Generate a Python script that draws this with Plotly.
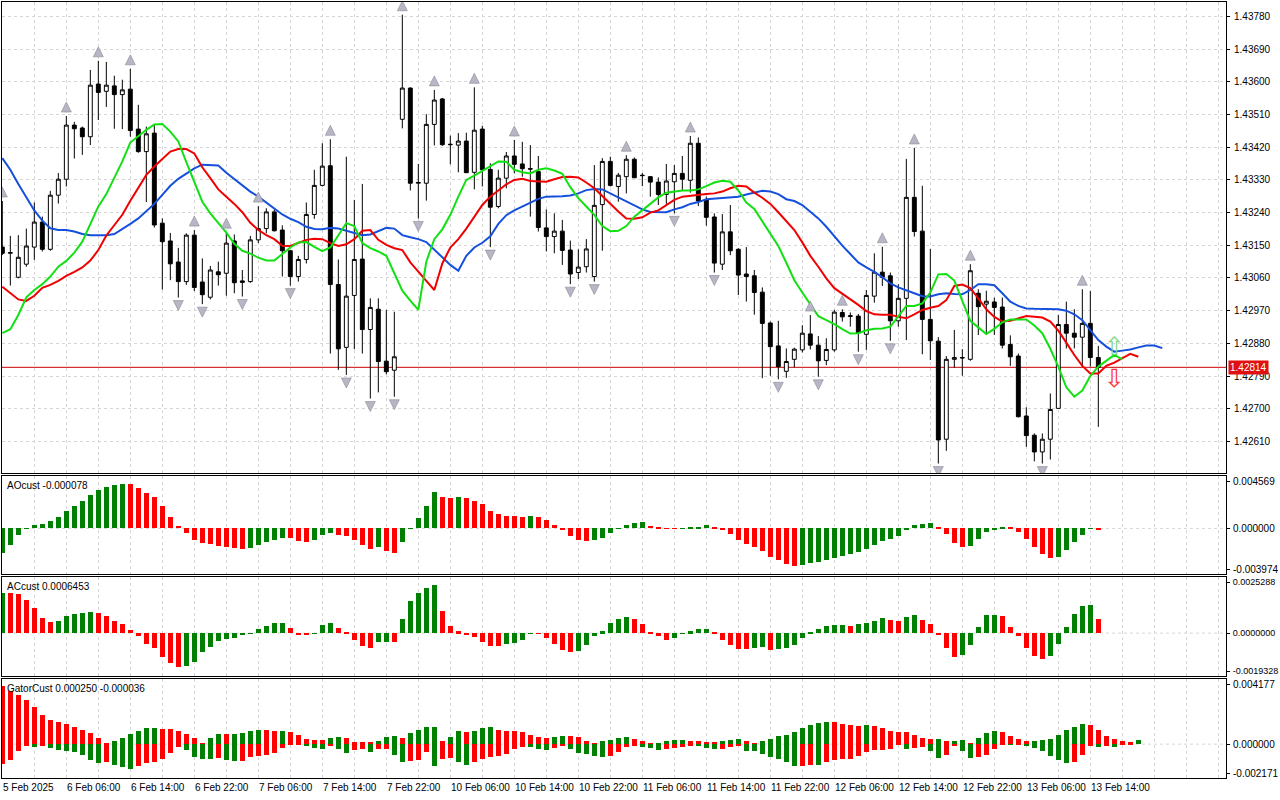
import plotly.graph_objects as go

# H1 candles, bar 0 = 5 Feb 22:00 (weekend gap after bar 49)
opens = [1.43145, 1.43128, 1.43062, 1.43098, 1.43145, 1.43214, 1.43139, 1.43288, 1.43332, 1.43481,
         1.43473, 1.43449, 1.43594, 1.43574, 1.43589, 1.43565, 1.43580, 1.43470, 1.43408, 1.43459,
         1.43211, 1.43162, 1.43104, 1.43050, 1.43178, 1.43049, 1.43007, 1.43077, 1.43073, 1.43162,
         1.43052, 1.43050, 1.43165, 1.43196, 1.43242, 1.43192, 1.43135, 1.43064, 1.43111, 1.43235,
         1.43315, 1.43369, 1.43042, 1.42869, 1.43012, 1.43112, 1.42918, 1.42974, 1.42831, 1.42806,
         1.43497, 1.43583, 1.43321, 1.43321, 1.43483, 1.43553, 1.43427, 1.43426, 1.43437, 1.43351,
         1.43470, 1.43359, 1.43257, 1.43335, 1.43396, 1.43374, 1.43361, 1.43353, 1.43198, 1.43174,
         1.43189, 1.43137, 1.43075, 1.43091, 1.43064, 1.43262, 1.43381, 1.43312, 1.43339, 1.43387,
         1.43343, 1.43339, 1.43324, 1.43290, 1.43325, 1.43348, 1.43329, 1.43431, 1.43275, 1.43228,
         1.43098, 1.43187, 1.43139, 1.43071, 1.43066, 1.43021, 1.42936, 1.42873, 1.42803, 1.42836,
         1.42862, 1.42906, 1.42875, 1.42833, 1.42862, 1.42965, 1.42954, 1.42955, 1.42905, 1.43010,
         1.43076, 1.43066, 1.42942, 1.43004, 1.43282, 1.43189, 1.42946, 1.42886, 1.42616, 1.42836,
         1.42841, 1.42836, 1.43018, 1.42988, 1.42994, 1.42980, 1.42877, 1.42845, 1.42680, 1.42627,
         1.42581, 1.42616, 1.42701, 1.42932, 1.42908, 1.42897, 1.42935, 1.42841]
highs = [1.43272, 1.43176, 1.43178, 1.43196, 1.43268, 1.43229, 1.43300, 1.43349, 1.43506, 1.43490,
         1.43477, 1.43633, 1.43658, 1.43655, 1.43617, 1.43606, 1.43636, 1.43537, 1.43477, 1.43481,
         1.43224, 1.43184, 1.43143, 1.43183, 1.43192, 1.43114, 1.43093, 1.43105, 1.43186, 1.43180,
         1.43082, 1.43176, 1.43258, 1.43252, 1.43248, 1.43205, 1.43137, 1.43121, 1.43268, 1.43358,
         1.43431, 1.43442, 1.43111, 1.43394, 1.43275, 1.43319, 1.43004, 1.43004, 1.42972, 1.42967,
         1.43785, 1.43585, 1.43374, 1.43511, 1.43578, 1.43556, 1.43452, 1.43459, 1.43460, 1.43585,
         1.43479, 1.43376, 1.43358, 1.43407, 1.43440, 1.43435, 1.43426, 1.43396, 1.43249, 1.43238,
         1.43220, 1.43163, 1.43139, 1.43167, 1.43371, 1.43390, 1.43394, 1.43349, 1.43398, 1.43392,
         1.43349, 1.43341, 1.43337, 1.43374, 1.43371, 1.43396, 1.43451, 1.43447, 1.43284, 1.43238,
         1.43236, 1.43261, 1.43142, 1.43145, 1.43082, 1.43034, 1.42940, 1.42942, 1.42866, 1.42868,
         1.42930, 1.42958, 1.42900, 1.42894, 1.42972, 1.42974, 1.42965, 1.42961, 1.43027, 1.43128,
         1.43146, 1.43075, 1.43043, 1.43388, 1.43418, 1.43314, 1.43140, 1.42897, 1.42845, 1.42917,
         1.42864, 1.43098, 1.43029, 1.43025, 1.43006, 1.43006, 1.42902, 1.42852, 1.42704, 1.42632,
         1.42632, 1.42742, 1.42958, 1.42995, 1.42974, 1.43029, 1.43024, 1.42873]
lows = [1.43123, 1.43039, 1.43059, 1.43091, 1.43110, 1.43133, 1.43135, 1.43265, 1.43312, 1.43389,
        1.43399, 1.43426, 1.43495, 1.43531, 1.43471, 1.43470, 1.43449, 1.43405, 1.43269, 1.43199,
        1.43028, 1.43054, 1.43006, 1.43041, 1.43024, 1.42988, 1.43001, 1.43039, 1.43011, 1.43018,
        1.43009, 1.43047, 1.43156, 1.43183, 1.43188, 1.43064, 1.43039, 1.43050, 1.43100, 1.43223,
        1.43312, 1.42852, 1.42807, 1.42793, 1.42864, 1.42852, 1.42728, 1.42745, 1.42795, 1.42733,
        1.43472, 1.43301, 1.43224, 1.43273, 1.43425, 1.43424, 1.43373, 1.43351, 1.43349, 1.43304,
        1.43312, 1.43145, 1.43252, 1.43307, 1.43348, 1.43339, 1.43229, 1.43188, 1.43133, 1.43128,
        1.43096, 1.43043, 1.43057, 1.43075, 1.43050, 1.43135, 1.43312, 1.43270, 1.43293, 1.43336,
        1.43313, 1.43284, 1.43261, 1.43264, 1.43238, 1.43302, 1.43295, 1.43258, 1.43204, 1.43075,
        1.43082, 1.43123, 1.43013, 1.42995, 1.42959, 1.42784, 1.42791, 1.42781, 1.42785, 1.42814,
        1.42855, 1.42863, 1.42788, 1.42820, 1.42857, 1.42940, 1.42926, 1.42857, 1.42862, 1.42992,
        1.43038, 1.42887, 1.42926, 1.42889, 1.43174, 1.42850, 1.42834, 1.42549, 1.42584, 1.42813,
        1.42791, 1.42832, 1.42903, 1.42903, 1.42903, 1.42866, 1.42818, 1.42676, 1.42595, 1.42555,
        1.42549, 1.42560, 1.42700, 1.42866, 1.42866, 1.42816, 1.42816, 1.42650]
closes = [1.43128, 1.43130, 1.43117, 1.43148, 1.43214, 1.43139, 1.43288, 1.43332, 1.43481, 1.43471,
          1.43449, 1.43591, 1.43571, 1.43591, 1.43565, 1.43578, 1.43466, 1.43408, 1.43457, 1.43206,
          1.43160, 1.43099, 1.43050, 1.43178, 1.43034, 1.43014, 1.43082, 1.43069, 1.43156, 1.43047,
          1.43048, 1.43165, 1.43196, 1.43242, 1.43190, 1.43135, 1.43064, 1.43111, 1.43235, 1.43315,
          1.43368, 1.43042, 1.42865, 1.43010, 1.43111, 1.42918, 1.42979, 1.42830, 1.42802, 1.42843,
          1.43583, 1.43321, 1.43323, 1.43483, 1.43550, 1.43427, 1.43428, 1.43437, 1.43350, 1.43467,
          1.43358, 1.43255, 1.43335, 1.43396, 1.43373, 1.43361, 1.43360, 1.43199, 1.43174, 1.43189,
          1.43136, 1.43071, 1.43090, 1.43140, 1.43260, 1.43381, 1.43315, 1.43343, 1.43387, 1.43336,
          1.43342, 1.43324, 1.43290, 1.43327, 1.43348, 1.43332, 1.43431, 1.43272, 1.43227, 1.43101,
          1.43187, 1.43135, 1.43068, 1.43064, 1.43020, 1.42935, 1.42871, 1.42816, 1.42830, 1.42864,
          1.42908, 1.42875, 1.42832, 1.42863, 1.42966, 1.42953, 1.42956, 1.42909, 1.43012, 1.43076,
          1.43062, 1.42942, 1.43004, 1.43282, 1.43188, 1.42946, 1.42887, 1.42614, 1.42836, 1.42841,
          1.42840, 1.43080, 1.42981, 1.42996, 1.42979, 1.42875, 1.42843, 1.42678, 1.42626, 1.42581,
          1.42616, 1.42698, 1.42932, 1.42908, 1.42897, 1.42935, 1.42841, 1.42814]

# Alligator lines as drawn (already shifted forward)
jaw = [1.43390, 1.43358, 1.43319, 1.43282, 1.43246, 1.43218, 1.43197, 1.43192, 1.43192, 1.43188,
       1.43181, 1.43178, 1.43178, 1.43178, 1.43181, 1.43194, 1.43209, 1.43224, 1.43243, 1.43264,
       1.43289, 1.43314, 1.43333, 1.43348, 1.43362, 1.43372, 1.43372, 1.43370, 1.43350, 1.43332,
       1.43314, 1.43298, 1.43284, 1.43268, 1.43252, 1.43235, 1.43223, 1.43214, 1.43201, 1.43195,
       1.43194, 1.43198, 1.43196, 1.43190, 1.43183, 1.43178, 1.43180, 1.43188, 1.43198, 1.43196,
       1.43178, 1.43172, 1.43167, 1.43159, 1.43137, 1.43117, 1.43096, 1.43080, 1.43121, 1.43144,
       1.43157, 1.43175, 1.43209, 1.43233, 1.43246, 1.43257, 1.43266, 1.43278, 1.43284, 1.43284,
       1.43285, 1.43287, 1.43293, 1.43302, 1.43305, 1.43304, 1.43293, 1.43282, 1.43270, 1.43259,
       1.43249, 1.43242, 1.43241, 1.43241, 1.43249, 1.43255, 1.43264, 1.43269, 1.43277, 1.43279,
       1.43280, 1.43282, 1.43284, 1.43290, 1.43296, 1.43300, 1.43298, 1.43291, 1.43277, 1.43272,
       1.43261, 1.43243, 1.43224, 1.43201, 1.43174, 1.43149, 1.43126, 1.43103, 1.43089, 1.43077,
       1.43062, 1.43045, 1.43034, 1.43027, 1.43018, 1.43010, 1.43009, 1.43015, 1.43018, 1.43016,
       1.43015, 1.43027, 1.43043, 1.43043, 1.43040, 1.43018, 1.42995, 1.42983, 1.42976, 1.42975,
       1.42975, 1.42975, 1.42974, 1.42970, 1.42960, 1.42944, 1.42917, 1.42889, 1.42871, 1.42857,
       1.42860, 1.42863, 1.42869, 1.42874, 1.42874, 1.42867]
teeth = [1.43036, 1.43018, 1.43001, 1.42997, 1.43011, 1.43033, 1.43041, 1.43052, 1.43066, 1.43077,
         1.43089, 1.43108, 1.43137, 1.43177, 1.43204, 1.43234, 1.43273, 1.43310, 1.43344, 1.43367,
         1.43387, 1.43408, 1.43415, 1.43415, 1.43403, 1.43365, 1.43335, 1.43304, 1.43284, 1.43264,
         1.43241, 1.43212, 1.43192, 1.43178, 1.43167, 1.43149, 1.43148, 1.43156, 1.43165, 1.43168,
         1.43167, 1.43156, 1.43148, 1.43153, 1.43167, 1.43190, 1.43192, 1.43165, 1.43151, 1.43142,
         1.43137, 1.43103, 1.43076, 1.43052, 1.43027, 1.43100, 1.43144, 1.43167, 1.43196, 1.43229,
         1.43261, 1.43284, 1.43302, 1.43318, 1.43330, 1.43333, 1.43327, 1.43325, 1.43325, 1.43332,
         1.43338, 1.43339, 1.43337, 1.43323, 1.43307, 1.43286, 1.43264, 1.43243, 1.43224, 1.43223,
         1.43227, 1.43240, 1.43246, 1.43261, 1.43275, 1.43284, 1.43287, 1.43289, 1.43291, 1.43293,
         1.43298, 1.43307, 1.43314, 1.43312, 1.43295, 1.43281, 1.43264, 1.43241, 1.43217, 1.43192,
         1.43158, 1.43121, 1.43091, 1.43059, 1.43032, 1.43017, 1.43003, 1.42986, 1.42969, 1.42960,
         1.42959, 1.42959, 1.42953, 1.42949, 1.42960, 1.42972, 1.42978, 1.42983, 1.42999, 1.43038,
         1.43042, 1.43032, 1.43004, 1.42974, 1.42953, 1.42940, 1.42942, 1.42949, 1.42955, 1.42953,
         1.42951, 1.42940, 1.42915, 1.42882, 1.42848, 1.42818, 1.42797, 1.42797, 1.42818, 1.42827,
         1.42838, 1.42851, 1.42843]
lips = [1.42908, 1.42919, 1.42958, 1.43007, 1.43027, 1.43043, 1.43064, 1.43091, 1.43107, 1.43130,
        1.43160, 1.43211, 1.43257, 1.43291, 1.43335, 1.43381, 1.43433, 1.43451, 1.43468, 1.43483,
        1.43484, 1.43463, 1.43436, 1.43379, 1.43323, 1.43270, 1.43238, 1.43212, 1.43185, 1.43154,
        1.43135, 1.43127, 1.43116, 1.43108, 1.43108, 1.43126, 1.43144, 1.43158, 1.43159, 1.43146,
        1.43134, 1.43144, 1.43178, 1.43211, 1.43203, 1.43156, 1.43142, 1.43133, 1.43121, 1.43071,
        1.43025, 1.42998, 1.42972, 1.43105, 1.43167, 1.43194, 1.43234, 1.43284, 1.43330, 1.43342,
        1.43355, 1.43367, 1.43381, 1.43380, 1.43358, 1.43351, 1.43348, 1.43358, 1.43362, 1.43356,
        1.43347, 1.43310, 1.43280, 1.43257, 1.43234, 1.43203, 1.43189, 1.43190, 1.43203, 1.43229,
        1.43247, 1.43264, 1.43282, 1.43295, 1.43299, 1.43301, 1.43301, 1.43304, 1.43313, 1.43323,
        1.43328, 1.43325, 1.43301, 1.43268, 1.43250, 1.43217, 1.43183, 1.43148, 1.43102, 1.43054,
        1.43020, 1.42986, 1.42955, 1.42944, 1.42933, 1.42919, 1.42907, 1.42908, 1.42916, 1.42920,
        1.42921, 1.42926, 1.42954, 1.42983, 1.42983, 1.42990, 1.43020, 1.43070, 1.43071, 1.43053,
        1.42997, 1.42942, 1.42924, 1.42906, 1.42920, 1.42938, 1.42946, 1.42947, 1.42946, 1.42929,
        1.42908, 1.42865, 1.42816, 1.42759, 1.42733, 1.42750, 1.42790, 1.42816, 1.42832, 1.42848,
        1.42836]

ao = [-0.00218, -0.00142, -0.00055, -0.00003, 0.00029, 0.00038, 0.00064, 0.00099, 0.00151, 0.00195,
      0.00238, 0.00291, 0.00334, 0.00363, 0.00378, 0.00386, 0.00383, 0.00352, 0.00311, 0.00276,
      0.00195, 0.00102, 0.00020, -0.00038, -0.00102, -0.00125, -0.00137, -0.00151, -0.00160, -0.00171,
      -0.00180, -0.00171, -0.00142, -0.00122, -0.00102, -0.00081, -0.00083, -0.00110, -0.00116, -0.00102,
      -0.00055, -0.00041, -0.00055, -0.00064, -0.00102, -0.00142, -0.00180, -0.00166, -0.00198, -0.00218,
      -0.00116, 0.00003, 0.00087, 0.00195, 0.00314, 0.00276, 0.00267, 0.00276, 0.00267, 0.00238,
      0.00215, 0.00154, 0.00128, 0.00108, 0.00105, 0.00102, 0.00110, 0.00096, 0.00073, 0.00029,
      -0.00009, -0.00064, -0.00102, -0.00110, -0.00102, -0.00081, -0.00038, -0.00003, 0.00029, 0.00050,
      0.00053, 0.00020, 0.00015, 0.00002, -0.00001, 0.00001, 0.00009, 0.00015, 0.00026, 0.00009,
      -0.00015, -0.00052, -0.00102, -0.00137, -0.00163, -0.00198, -0.00247, -0.00276, -0.00308, -0.00325,
      -0.00317, -0.00299, -0.00291, -0.00276, -0.00259, -0.00238, -0.00224, -0.00206, -0.00180, -0.00145,
      -0.00110, -0.00093, -0.00064, -0.00009, 0.00026, 0.00035, 0.00044, 0.00009, -0.00052, -0.00131,
      -0.00160, -0.00151, -0.00093, -0.00029, -0.00006, 0.00015, 0.00006, -0.00029, -0.00093, -0.00160,
      -0.00221, -0.00256, -0.00247, -0.00189, -0.00116, -0.00058, -0.00003, -0.000078]

ac = [0.00183, 0.00180, 0.00176, 0.00149, 0.00113, 0.00068, 0.00050, 0.00054, 0.00078, 0.00086,
      0.00090, 0.00093, 0.00092, 0.00078, 0.00053, 0.00041, 0.00014, -0.00012, -0.00050, -0.00068,
      -0.00107, -0.00135, -0.00153, -0.00147, -0.00132, -0.00087, -0.00062, -0.00035, -0.00027, -0.00020,
      -0.00009, -0.00001, 0.00018, 0.00033, 0.00045, 0.00046, 0.00023, -0.00008, -0.00009, -0.00002,
      0.00036, 0.00045, 0.00023, 0.00003, -0.00032, -0.00057, -0.00068, -0.00040, -0.00038, -0.00042,
      0.00063, 0.00144, 0.00180, 0.00203, 0.00216, 0.00098, 0.00033, 0.00008, -0.00008, -0.00017,
      -0.00038, -0.00057, -0.00058, -0.00048, -0.00045, -0.00033, -0.00003, -0.00004, -0.00023, -0.00050,
      -0.00077, -0.00084, -0.00081, -0.00053, -0.00015, 0.00008, 0.00045, 0.00063, 0.00071, 0.00063,
      0.00041, 0.00003, -0.00012, -0.00030, -0.00020, -0.00003, 0.00008, 0.00018, 0.00019, 0.00001,
      -0.00030, -0.00053, -0.00072, -0.00073, -0.00065, -0.00064, -0.00077, -0.00072, -0.00065, -0.00053,
      -0.00023, 0.00003, 0.00018, 0.00033, 0.00037, 0.00038, 0.00033, 0.00041, 0.00045, 0.00056,
      0.00068, 0.00059, 0.00054, 0.00071, 0.00081, 0.00059, 0.00041, -0.00008, -0.00068, -0.00107,
      -0.00098, -0.00053, 0.00026, 0.00081, 0.00082, 0.00078, 0.00026, -0.00015, -0.00065, -0.00102,
      -0.00117, -0.00102, -0.00050, 0.00026, 0.00086, 0.00123, 0.00126, 0.0006453]

gator_up = [0.00370, 0.00340, 0.00318, 0.00285, 0.00235, 0.00185, 0.00156, 0.00140, 0.00126, 0.00111,
            0.00092, 0.00070, 0.00041, 0.00001, 0.00023, 0.00040, 0.00064, 0.00086, 0.00101, 0.00103,
            0.00098, 0.00094, 0.00082, 0.00067, 0.00041, 0.00007, 0.00037, 0.00066, 0.00066, 0.00068,
            0.00073, 0.00086, 0.00092, 0.00090, 0.00085, 0.00086, 0.00075, 0.00058, 0.00036, 0.00027,
            0.00027, 0.00042, 0.00048, 0.00037, 0.00016, 0.00012, 0.00012, 0.00023, 0.00047, 0.00054,
            0.00041, 0.00069, 0.00091, 0.00107, 0.00110, 0.00017, 0.00048, 0.00087, 0.00075, 0.00085,
            0.00104, 0.00109, 0.00093, 0.00085, 0.00084, 0.00076, 0.00061, 0.00047, 0.00041, 0.00048,
            0.00053, 0.00052, 0.00044, 0.00021, 0.00002, 0.00018, 0.00029, 0.00039, 0.00046, 0.00036,
            0.00022, 0.00002, 0.00005, 0.00020, 0.00026, 0.00029, 0.00023, 0.00020, 0.00014, 0.00014,
            0.00018, 0.00025, 0.00030, 0.00022, 0.00001, 0.00019, 0.00034, 0.00050, 0.00060, 0.00080,
            0.00103, 0.00122, 0.00133, 0.00142, 0.00142, 0.00132, 0.00123, 0.00117, 0.00120, 0.00117,
            0.00103, 0.00086, 0.00081, 0.00078, 0.00058, 0.00038, 0.00031, 0.00032, 0.00019, 0.00022,
            0.00027, 0.00005, 0.00039, 0.00069, 0.00087, 0.00078, 0.00053, 0.00034, 0.00021, 0.00022,
            0.00024, 0.00035, 0.00059, 0.00088, 0.00112, 0.00126, 0.00120, 0.00092, 0.00053, 0.00030,
            0.00022, 0.00012, 0.000250]
gator_dn = [-0.00128, -0.00099, -0.00043, -0.00010, -0.00016, -0.00010, -0.00023, -0.00039, -0.00041, -0.00053,
            -0.00071, -0.00103, -0.00120, -0.00114, -0.00131, -0.00147, -0.00160, -0.00141, -0.00124, -0.00116,
            -0.00097, -0.00055, -0.00021, -0.00036, -0.00080, -0.00095, -0.00097, -0.00092, -0.00099, -0.00110,
            -0.00106, -0.00085, -0.00076, -0.00070, -0.00059, -0.00023, -0.00004, -0.00002, -0.00006, -0.00022,
            -0.00033, -0.00012, -0.00030, -0.00058, -0.00036, -0.00034, -0.00050, -0.00032, -0.00030, -0.00071,
            -0.00112, -0.00105, -0.00104, -0.00053, -0.00140, -0.00094, -0.00090, -0.00117, -0.00134, -0.00113,
            -0.00094, -0.00083, -0.00079, -0.00062, -0.00028, -0.00018, -0.00021, -0.00033, -0.00037, -0.00024,
            -0.00009, -0.00029, -0.00057, -0.00066, -0.00073, -0.00083, -0.00075, -0.00053, -0.00021, -0.00006,
            -0.00020, -0.00024, -0.00036, -0.00034, -0.00024, -0.00017, -0.00014, -0.00015, -0.00022, -0.00030,
            -0.00030, -0.00018, -0.00013, -0.00044, -0.00045, -0.00064, -0.00081, -0.00093, -0.00115, -0.00138,
            -0.00138, -0.00135, -0.00136, -0.00115, -0.00099, -0.00098, -0.00096, -0.00078, -0.00053, -0.00040,
            -0.00038, -0.00033, -0.00001, -0.00034, -0.00023, -0.00018, -0.00042, -0.00087, -0.00072, -0.00015,
            -0.00045, -0.00090, -0.00080, -0.00068, -0.00033, -0.00002, -0.00004, -0.00002, -0.00009, -0.00024,
            -0.00043, -0.00075, -0.00099, -0.00123, -0.00115, -0.00068, -0.00007, -0.00019, -0.00014, -0.00021,
            -0.000036]

# fractal bars (up = above high, down = below low)
fractal_up = [0, 8, 12, 16, 24, 28, 32, 41, 50, 54, 59, 64, 78, 86, 101, 105, 110, 114, 121, 135]
fractal_dn = [22, 25, 30, 36, 43, 46, 49, 52, 61, 71, 74, 84, 89, 97, 102, 107, 111, 117, 130]

# signal arrows
signal_bar = [139]
signal_buy = [1.42864]
signal_sell = [1.42777]

date_bars = [0, 8, 16, 24, 32, 40, 48, 56, 64, 72, 80, 88, 96, 104, 112, 120, 128, 136]
date_labels = ['5 Feb 2025', '6 Feb 06:00', '6 Feb 14:00', '6 Feb 22:00', '7 Feb 06:00',
               '7 Feb 14:00', '7 Feb 22:00', '10 Feb 06:00', '10 Feb 14:00', '10 Feb 22:00',
               '11 Feb 06:00', '11 Feb 14:00', '11 Feb 22:00', '12 Feb 06:00', '12 Feb 14:00',
               '12 Feb 22:00', '13 Feb 06:00', '13 Feb 14:00']

price_ticks = [1.42610, 1.42700, 1.42790, 1.42880, 1.42970, 1.43060, 1.43150,
               1.43240, 1.43330, 1.43420, 1.43510, 1.43600, 1.43690, 1.43780]

GREEN = '#008000'
RED = '#ff0000'
GRID = '#d6d6d6'
DASH = '3px,3px'
FONT = "Tahoma, 'Liberation Sans', sans-serif"
FS = 10


def trend_colors(vals, use_abs=False, first=GREEN):
    cols = [first]
    for a, b in zip(vals, vals[1:]):
        if use_abs:
            a, b = abs(a), abs(b)
        cols.append(GREEN if b > a else RED)
    return cols


fig = go.Figure()

# main panel
fig.add_trace(go.Candlestick(
    x=list(range(len(closes))), open=opens, high=highs, low=lows, close=closes,
    increasing=dict(fillcolor='white', line=dict(color='black', width=1)),
    decreasing=dict(fillcolor='black', line=dict(color='black', width=1)),
    whiskerwidth=0, hoverinfo='skip', showlegend=False
))
for vals, col in [(jaw, '#1450dc'), (teeth, '#f00000'), (lips, '#12e012')]:
    fig.add_trace(go.Scatter(x=list(range(len(vals))), y=vals, mode='lines',
                             line=dict(color=col, width=2), hoverinfo='skip', showlegend=False))

arrow_style = dict(size=10, color='#b6b6c4', line=dict(color='#8a8a9a', width=0.6))
fig.add_trace(go.Scatter(
    x=fractal_up, y=[highs[i] for i in fractal_up], mode='markers',
    marker=dict(symbol='arrow-down', angle=180, standoff=14, **arrow_style),
    hoverinfo='skip', showlegend=False))
fig.add_trace(go.Scatter(
    x=fractal_dn, y=[lows[i] for i in fractal_dn], mode='markers',
    marker=dict(symbol='arrow-down', angle=0, standoff=13, **arrow_style),
    hoverinfo='skip', showlegend=False))

fig.add_trace(go.Scatter(x=signal_bar, y=signal_buy, mode='text', text=['⇧'],
                         textfont=dict(family='DejaVu Sans', size=25, color='#7fd67f'),
                         hoverinfo='skip', showlegend=False))
fig.add_trace(go.Scatter(x=signal_bar, y=signal_sell, mode='text', text=['⇩'],
                         textfont=dict(family='DejaVu Sans', size=25, color='#ff3030'),
                         hoverinfo='skip', showlegend=False))

# oscillators
fig.add_trace(go.Bar(x=list(range(len(ao))), y=ao, marker=dict(color=trend_colors(ao), line=dict(width=0)),
                     width=0.62, xaxis='x2', yaxis='y2', hoverinfo='skip', showlegend=False))
fig.add_trace(go.Bar(x=list(range(len(ac))), y=ac, marker=dict(color=trend_colors(ac), line=dict(width=0)),
                     width=0.62, xaxis='x3', yaxis='y3', hoverinfo='skip', showlegend=False))
fig.add_trace(go.Bar(x=list(range(len(gator_up))), y=gator_up,
                     marker=dict(color=trend_colors(gator_up, first=RED), line=dict(width=0)),
                     width=0.62, xaxis='x4', yaxis='y4', hoverinfo='skip', showlegend=False))
fig.add_trace(go.Bar(x=list(range(len(gator_dn))), y=gator_dn,
                     marker=dict(color=trend_colors(gator_dn, use_abs=True, first=RED), line=dict(width=0)),
                     width=0.62, xaxis='x4', yaxis='y4', hoverinfo='skip', showlegend=False))

# layout: panel pixel rows inside a 776px plot height
H = 776.0
def dom(top_px, bot_px):
    return [(778 - bot_px) / H, (778 - top_px) / H]

x_range = [-0.04, 152.96]
grid_x = list(range(0, 153, 4))
frame = dict(showline=True, mirror=True, linecolor='black', linewidth=1, zeroline=False)

def x_axis(anchor):
    ax = dict(domain=[0, 1], anchor=anchor, range=x_range, tickmode='array', tickvals=grid_x,
              showticklabels=False, ticks='', showgrid=True, gridcolor=GRID, griddash=DASH,
              fixedrange=True, **frame)
    if anchor != 'y':
        ax['matches'] = 'x'
    return ax

def sub_y(anchor, domain, lo, hi, px_h, fmt, fs=FS):
    step = (hi - lo) / px_h
    return dict(domain=domain, anchor=anchor, range=[lo, hi], side='right', tickmode='array',
                tickvals=[lo + 5 * step, 0, hi - 5 * step],
                ticktext=[fmt.format(lo), fmt.format(0.0), fmt.format(hi)],
                ticks='outside', ticklen=3, tickcolor='black', ticklabelstandoff=1,
                showgrid=False, fixedrange=True,
                tickfont=dict(family=FONT, size=fs, color='black'), **frame)

annotations = []
for b, t in zip(date_bars, date_labels):
    annotations.append(dict(x=b, xref='x4', y=0, yref='paper', text=t, showarrow=False,
                            xanchor='left', yanchor='top', yshift=-2, xshift=-1,
                            font=dict(family=FONT, size=FS, color='black')))
for txt, yr in [(f'AOcust {ao[-1]:.6f}', 'y2 domain'),
                (f'ACcust {ac[-1]:.7f}', 'y3 domain'),
                (f'GatorCust {gator_up[-1]:.6f} {gator_dn[-1]:.6f}', 'y4 domain')]:
    annotations.append(dict(x=0, xref='paper', y=1, yref=yr, text=txt, showarrow=False,
                            xanchor='left', yanchor='top', xshift=3, yshift=-2,
                            font=dict(family=FONT, size=FS, color='black')))
annotations.append(dict(x=1, xref='paper', y=closes[-1], yref='y', text=f'{closes[-1]:.5f}',
                        showarrow=False, xanchor='left', yanchor='middle', xshift=2,
                        bgcolor='#e01010', borderpad=1,
                        font=dict(family=FONT, size=FS, color='white')))

# dashed zero lines of the oscillator panels and the last-price line
shapes = []
for yr in ['y2', 'y3', 'y4']:
    shapes.append(dict(type='line', xref='x domain', x0=0, x1=1, yref=yr, y0=0, y1=0,
                       line=dict(color=GRID, width=1, dash=DASH), layer='below'))
shapes.append(dict(type='line', xref='x domain', x0=0, x1=1, yref='y', y0=closes[-1], y1=closes[-1],
                   line=dict(color='#cc0000', width=1), layer='below'))

fig.update_layout(
    width=1280, height=800, autosize=False,
    margin=dict(l=2, r=54, t=2, b=22, pad=0),
    paper_bgcolor='white', plot_bgcolor='white',
    template='none', showlegend=False, barmode='overlay', bargap=0,
    font=dict(family=FONT, size=FS, color='black'),
    xaxis=dict(x_axis('y'), rangeslider=dict(visible=False)),
    xaxis2=x_axis('y2'), xaxis3=x_axis('y3'), xaxis4=x_axis('y4'),
    yaxis=dict(domain=dom(2, 473), anchor='x', range=[1.42523, 1.43820], side='right',
               tickmode='array', tickvals=price_ticks, ticktext=[f'{v:.5f}' for v in price_ticks],
               ticks='outside', ticklen=3, tickcolor='black', ticklabelstandoff=2,
               showgrid=True, gridcolor=GRID, griddash=DASH, fixedrange=True,
               tickfont=dict(family=FONT, size=FS, color='black'), **frame),
    yaxis2=sub_y('x2', dom(476, 574), -0.003974, 0.004569, 98, '{:.6f}'),
    yaxis3=sub_y('x3', dom(577, 676), -0.0019328, 0.0025288, 99, '{:.7f}', fs=9),
    yaxis4=sub_y('x4', dom(679, 778), -0.002171, 0.004177, 99, '{:.6f}'),
    annotations=annotations,
    shapes=shapes,
)

# page body margin off so the 1280x800 figure sits at the window origin
fig.write_html("out.html", config={'displayModeBar': False},
               post_script="document.body.style.margin='0px';")
